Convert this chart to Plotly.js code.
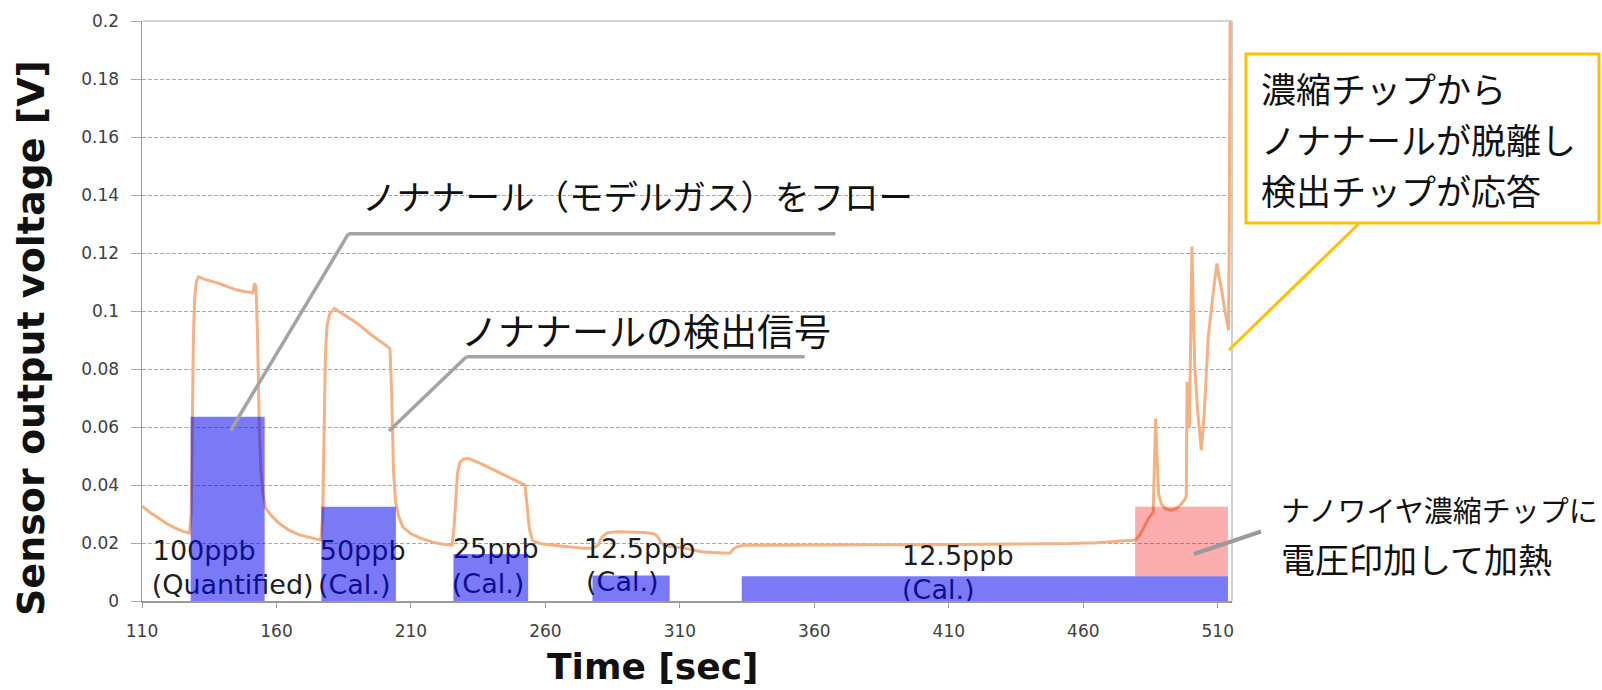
<!DOCTYPE html>
<html>
<head>
<meta charset="utf-8">
<script src="https://cdn.plot.ly/plotly-3.0.1.min.js"></script>
<style>html,body{margin:0;padding:0;background:#fff;}#chart{width:1602px;height:690px;}</style>
</head>
<body>
<div id="chart"></div>
<script>
// ---------------- data ----------------
const time = [110,113,116,119,122,125,127.6,128.3,128.7,129.1,129.6,130.2,131.0,133,136,139,142,145,148,151.2,151.8,152.4,153.0,153.6,154.2,155.0,156.0,158,161,164.5,168.5,172.5,176.5,177.2,177.7,178.2,178.8,179.8,181.5,185,190,195,200,202.2,202.9,203.5,204.3,205.5,207,210,213.5,218,222,225.3,226.0,226.6,227.3,228.2,229.5,231.3,236,241,246,250,252.4,253.2,254.0,255.2,258,262,268,274,277.5,279.5,281,283,286.5,292,297,300.2,301.5,302.8,304.5,308,312,315,318,322,326,328.6,330,331.5,334,345,360,380,400,420,440,455,465,475,479.3,481.1,482.9,484.3,486.0,486.5,486.9,487.4,488.0,489,490.5,492.5,494.5,496.2,497.8,498.3,498.6,499.1,499.5,500.0,500.4,500.9,501.5,502.5,503.9,505.0,506.5,508.4,509.7,510.4,511.0,512.5,514.0,514.3,514.6];
const voltage = [0.0328,0.0305,0.0287,0.0268,0.0253,0.0241,0.0234,0.030,0.060,0.090,0.105,0.110,0.1118,0.1110,0.1102,0.1094,0.1083,0.1073,0.1067,0.1063,0.1095,0.1085,0.090,0.060,0.045,0.037,0.032,0.0295,0.0268,0.0245,0.0228,0.0218,0.0210,0.030,0.060,0.085,0.095,0.099,0.1009,0.0989,0.0958,0.0920,0.0885,0.0871,0.070,0.045,0.034,0.029,0.0255,0.0232,0.0217,0.0203,0.0196,0.0193,0.025,0.035,0.044,0.0478,0.0489,0.0492,0.0474,0.0451,0.0429,0.0410,0.0400,0.033,0.025,0.0208,0.0198,0.0193,0.0187,0.0182,0.0182,0.0192,0.0220,0.0235,0.0239,0.0238,0.0236,0.0232,0.0225,0.0205,0.0190,0.0186,0.0182,0.0176,0.0170,0.0167,0.0165,0.0165,0.0180,0.0188,0.0192,0.0193,0.0193,0.0194,0.0194,0.0195,0.0196,0.0198,0.0201,0.0206,0.0210,0.0228,0.0262,0.0285,0.0305,0.045,0.0628,0.050,0.037,0.0335,0.0318,0.0312,0.0318,0.0332,0.0350,0.0362,0.0756,0.070,0.060,0.095,0.1222,0.100,0.080,0.066,0.052,0.065,0.0914,0.107,0.1164,0.112,0.1096,0.101,0.0934,0.13,0.2];

// gas-flow bars (start, end, height)
const barStart = [128.1, 176.7, 225.8, 277.5, 333.0];
const barEnd   = [155.6, 204.4, 253.6, 306.2, 513.8];
const barTop   = [0.0635, 0.0325, 0.0162, 0.0088, 0.0085];
// heating bar
const heatStart  = [479.3];
const heatEnd    = [513.8];
const heatBottom = [0.0085];
const heatTop    = [0.0325];

const concLabels = ['100ppb','(Quantified)','50ppb','(Cal.)','25ppb','(Cal.)','12.5ppb','(Cal.)','12.5ppb','(Cal.)'];

const xTickValues = [110,160,210,260,310,360,410,460,510];
const yTickValues = [0,0.02,0.04,0.06,0.08,0.1,0.12,0.14,0.16,0.18,0.2];
const yTickLabels = ['0','0.02','0.04','0.06','0.08','0.1','0.12','0.14','0.16','0.18','0.2'];

const xTitle = 'Time [sec]';
const yTitle = 'Sensor output voltage [V]';
const note1 = 'ノナナール（モデルガス）をフロー';
const note2 = 'ノナナールの検出信号';
const boxLines = ['濃縮チップから','ノナナールが脱離し','検出チップが応答'];
const heatLines = ['ナノワイヤ濃縮チップに','電圧印加して加熱'];

// ---------------- build ----------------
function rectPolys(s, e, b, t) {
  const xs = [], ys = [];
  for (let i = 0; i < s.length; i++) {
    xs.push(s[i], s[i], e[i], e[i], s[i], null);
    ys.push(b[i], t[i], t[i], b[i], b[i], null);
  }
  return {xs, ys};
}
const blue = rectPolys(barStart, barEnd, barStart.map(() => 0), barTop);
const heat = rectPolys(heatStart, heatEnd, heatBottom, heatTop);

// label placement (left x in data units, centre y in data units)
const labelX = [114.0,113.6,176.1,175.4,225.6,225.2,274.3,275.1,392.6,392.6];
const labelY = [0.0166,0.0048,0.0166,0.0048,0.0172,0.0052,0.0172,0.0059,0.0148,0.0031];

const traces = [
  {x: time, y: voltage, type: 'scatter', mode: 'lines',
   line: {color: '#F4B183', width: 3}, hoverinfo: 'skip', showlegend: false},
  {x: labelX, y: labelY, text: concLabels, type: 'scatter', mode: 'text',
   textposition: 'middle right', cliponaxis: false,
   textfont: {family: 'DejaVu Sans, Verdana, sans-serif', size: 27, color: '#1e1e1e'},
   hoverinfo: 'skip', showlegend: false},
  {x: blue.xs, y: blue.ys, type: 'scatter', mode: 'lines', fill: 'toself',
   fillcolor: 'rgba(0,0,240,0.52)', line: {width: 0}, hoverinfo: 'skip', showlegend: false},
  {x: heat.xs, y: heat.ys, type: 'scatter', mode: 'lines', fill: 'toself',
   fillcolor: 'rgba(250,0,0,0.32)', line: {width: 0}, hoverinfo: 'skip', showlegend: false}
];

// pixel helpers for overlay graphics
const L = 142, T = 21, W = 1090, H = 580;
const px = X => (X - L) / W;
const py = Y => (T + H - Y) / H;
function seg(x0, y0, x1, y1, color, width) {
  return {type: 'line', xref: 'paper', yref: 'paper', x0: px(x0), y0: py(y0), x1: px(x1), y1: py(y1),
          line: {color: color, width: width}, layer: 'above'};
}
function txt(text, X, Y, size, family) {
  return {text: text, xref: 'paper', yref: 'paper', x: px(X), y: py(Y), xanchor: 'left', yanchor: 'middle',
          showarrow: false, font: {family: family || 'Noto Sans CJK JP', size: size, color: '#111'}};
}
const grayC = '#a3a3a3', goldC = '#FFC000';

const shapes = [
  {type: 'line', xref: 'paper', yref: 'paper', x0: 0, x1: 1, y0: 1, y1: 1, line: {color: '#c6c6c6', width: 1.5}, layer: 'above'},
  {type: 'line', xref: 'paper', yref: 'paper', x0: 1, x1: 1, y0: 0, y1: 1, line: {color: '#c0c0c0', width: 1.5}, layer: 'above'},
  seg(348.5, 233.7, 835.4, 233.7, grayC, 3.5),
  seg(348.5, 233.7, 230.6, 430.5, grayC, 3.5),
  seg(466.4, 356.7, 804.6, 356.7, grayC, 3.5),
  seg(466.4, 356.7, 389.0, 431.0, grayC, 3.5),
  seg(1194, 554, 1261, 531.5, '#9a9a9a', 4),
  {type: 'rect', xref: 'paper', yref: 'paper', x0: px(1246), x1: px(1599), y0: py(54), y1: py(223),
   line: {color: goldC, width: 3}, fillcolor: '#ffffff', layer: 'above'},
  seg(1358, 224.5, 1229, 350, goldC, 3)
];

const annotations = [
  txt(note1, 360, 195, 34.5),
  txt(note2, 459, 330, 37),
  txt(boxLines[0], 1259, 87, 35),
  txt(boxLines[1], 1259, 138, 35),
  txt(boxLines[2], 1259, 190, 35),
  txt(heatLines[0], 1279, 509, 29),
  txt(heatLines[1], 1279, 558, 34),
  {text: '<b>' + xTitle + '</b>', xref: 'paper', yref: 'paper', x: px(652), y: py(666), xanchor: 'center', yanchor: 'middle',
   showarrow: false, font: {family: 'DejaVu Sans, sans-serif', size: 36, color: '#111'}},
  {text: '<b>' + yTitle + '</b>', xref: 'paper', yref: 'paper', x: px(31), y: py(338), xanchor: 'center', yanchor: 'middle',
   textangle: -90, showarrow: false, font: {family: 'DejaVu Sans, sans-serif', size: 38, color: '#111'}}
];

const layout = {
  width: 1602, height: 690,
  margin: {l: L, r: 1602 - L - W, t: T, b: 690 - T - H, pad: 0},
  paper_bgcolor: '#ffffff', plot_bgcolor: '#ffffff',
  showlegend: false,
  xaxis: {range: [110, 515.3], tickvals: xTickValues, showgrid: false, zeroline: false,
          showline: true, linecolor: '#9a9a9a', linewidth: 1.5,
          ticks: 'outside', ticklen: 5, tickcolor: '#9a9a9a', ticklabelstandoff: 9,
          tickfont: {family: 'DejaVu Sans, Verdana, sans-serif', size: 17, color: '#404040'}},
  yaxis: {range: [0, 0.2], tickvals: yTickValues, ticktext: yTickLabels, zeroline: false,
          showgrid: true, gridcolor: '#a8a8a8', gridwidth: 1, griddash: '4px,2px',
          showline: true, linecolor: '#9a9a9a', linewidth: 1.5,
          ticks: 'outside', ticklen: 10, tickcolor: '#a8a8a8', ticklabelstandoff: 8,
          tickfont: {family: 'DejaVu Sans, Verdana, sans-serif', size: 17, color: '#404040'}},
  shapes: shapes,
  annotations: annotations
};

Plotly.newPlot('chart', traces, layout, {staticPlot: true, displayModeBar: false});
</script>
</body>
</html>
